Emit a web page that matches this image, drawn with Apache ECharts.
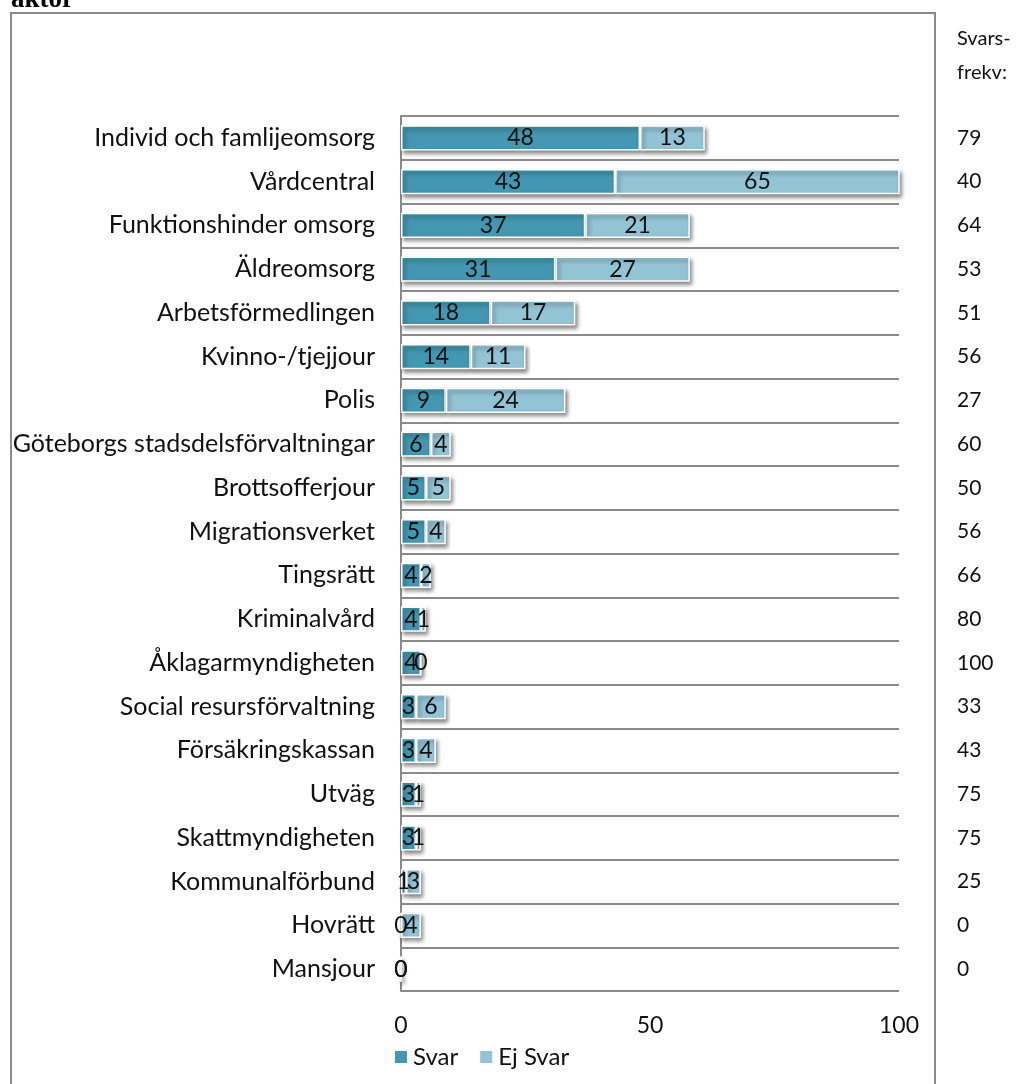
<!DOCTYPE html>
<html>
<head>
<meta charset="utf-8">
<script src="https://cdn.jsdelivr.net/npm/echarts@6/dist/echarts.min.js"></script>
<style>
  html, body { margin: 0; padding: 0; background: #fff; }
  #chart { width: 1024px; height: 1084px; }
</style>
</head>
<body>
<div id="chart"></div>
<script>
// kategorier, uppifrån och ner
let aktorer = ['Individ och famlijeomsorg', 'Vårdcentral', 'Funktionshinder omsorg', 'Äldreomsorg',
  'Arbetsförmedlingen', 'Kvinno-/tjejjour', 'Polis', 'Göteborgs stadsdelsförvaltningar',
  'Brottsofferjour', 'Migrationsverket', 'Tingsrätt', 'Kriminalvård', 'Åklagarmyndigheten',
  'Social resursförvaltning', 'Försäkringskassan', 'Utväg', 'Skattmyndigheten',
  'Kommunalförbund', 'Hovrätt', 'Mansjour'];
let svar   = [48, 43, 37, 31, 18, 14, 9, 6, 5, 5, 4, 4, 4, 3, 3, 3, 3, 1, 0, 0];
let ejSvar = [13, 65, 21, 27, 17, 11, 24, 4, 5, 4, 2, 1, 0, 6, 4, 1, 1, 3, 4, 0];
let svarsfrekv = [79, 40, 64, 53, 51, 56, 27, 60, 50, 56, 66, 80, 100, 33, 43, 75, 75, 25, 0, 0];
let xTicks = [0, 50, 100];

let font = 'Lato, "Open Sans", sans-serif';
let barShadow = {
  borderColor: '#fff',
  borderWidth: 1.5,
  shadowColor: 'rgba(0,0,0,0.45)',
  shadowBlur: 4,
  shadowOffsetX: 2,
  shadowOffsetY: 3
};

let chart = echarts.init(document.getElementById('chart'));
let option = {
  animation: false,
  textStyle: { fontFamily: font },
  grid: { left: 401, right: 125, top: 116, bottom: 93 },
  legend: {
    left: 388,
    top: 1040,
    itemWidth: 14,
    itemHeight: 14,
    itemGap: 20,
    icon: 'rect',
    textStyle: { fontSize: 24, color: '#111', fontFamily: font },
    data: ['Svar', 'Ej Svar']
  },
  xAxis: {
    type: 'value',
    min: xTicks[0],
    max: xTicks[xTicks.length - 1],
    interval: 50,
    axisLine: { show: false },
    axisTick: { show: false },
    splitLine: { show: false },
    axisLabel: { fontSize: 23, color: '#111', margin: 23 }
  },
  yAxis: [{
    type: 'category',
    inverse: true,
    data: aktorer,
    axisLine: { show: true, lineStyle: { color: '#8a8a8a', width: 2 } },
    axisTick: { show: false },
    splitLine: { show: true, lineStyle: { color: '#8a8a8a', width: 2 } },
    axisLabel: { fontSize: 25, color: '#111', margin: 26 }
  }, {
    type: 'category',
    inverse: true,
    position: 'right',
    data: svarsfrekv.map(String),
    axisLine: { show: false },
    axisTick: { show: false },
    axisLabel: { fontSize: 21, color: '#111', margin: 58, align: 'left' }
  }],
  series: [{
    name: 'Svar',
    type: 'bar',
    stack: 'tot',
    barWidth: '58%',
    clip: true,
    itemStyle: Object.assign({ color: '#4397b0' }, barShadow),
    label: { show: true, position: 'inside', color: '#111', fontSize: 23 },
    data: svar
  }, {
    name: 'Ej Svar',
    type: 'bar',
    stack: 'tot',
    clip: true,
    itemStyle: Object.assign({ color: '#93c4d6' }, barShadow),
    label: { show: true, position: 'inside', color: '#111', fontSize: 23 },
    data: ejSvar
  }],
  graphic: [{
    type: 'polyline',
    shape: { points: [[11, 1084], [11, 13], [935, 13], [935, 1084]] },
    style: { stroke: '#8a8a8a', lineWidth: 2, fill: null }
  }, {
    type: 'text',
    left: 957, top: 29,
    style: { text: 'Svars-', fontSize: 20, fill: '#111', fontFamily: font }
  }, {
    type: 'text',
    left: 957, top: 63,
    style: { text: 'frekv:', fontSize: 20, fill: '#111', fontFamily: font }
  }, {
    type: 'text',
    x: 11, y: 14,
    style: { text: 'aktör', fontSize: 27, fontWeight: 'bold', fill: '#000', verticalAlign: 'bottom',
      fontFamily: '"Liberation Serif", serif' }
  }]
};
chart.setOption(option);
</script>
</body>
</html>
